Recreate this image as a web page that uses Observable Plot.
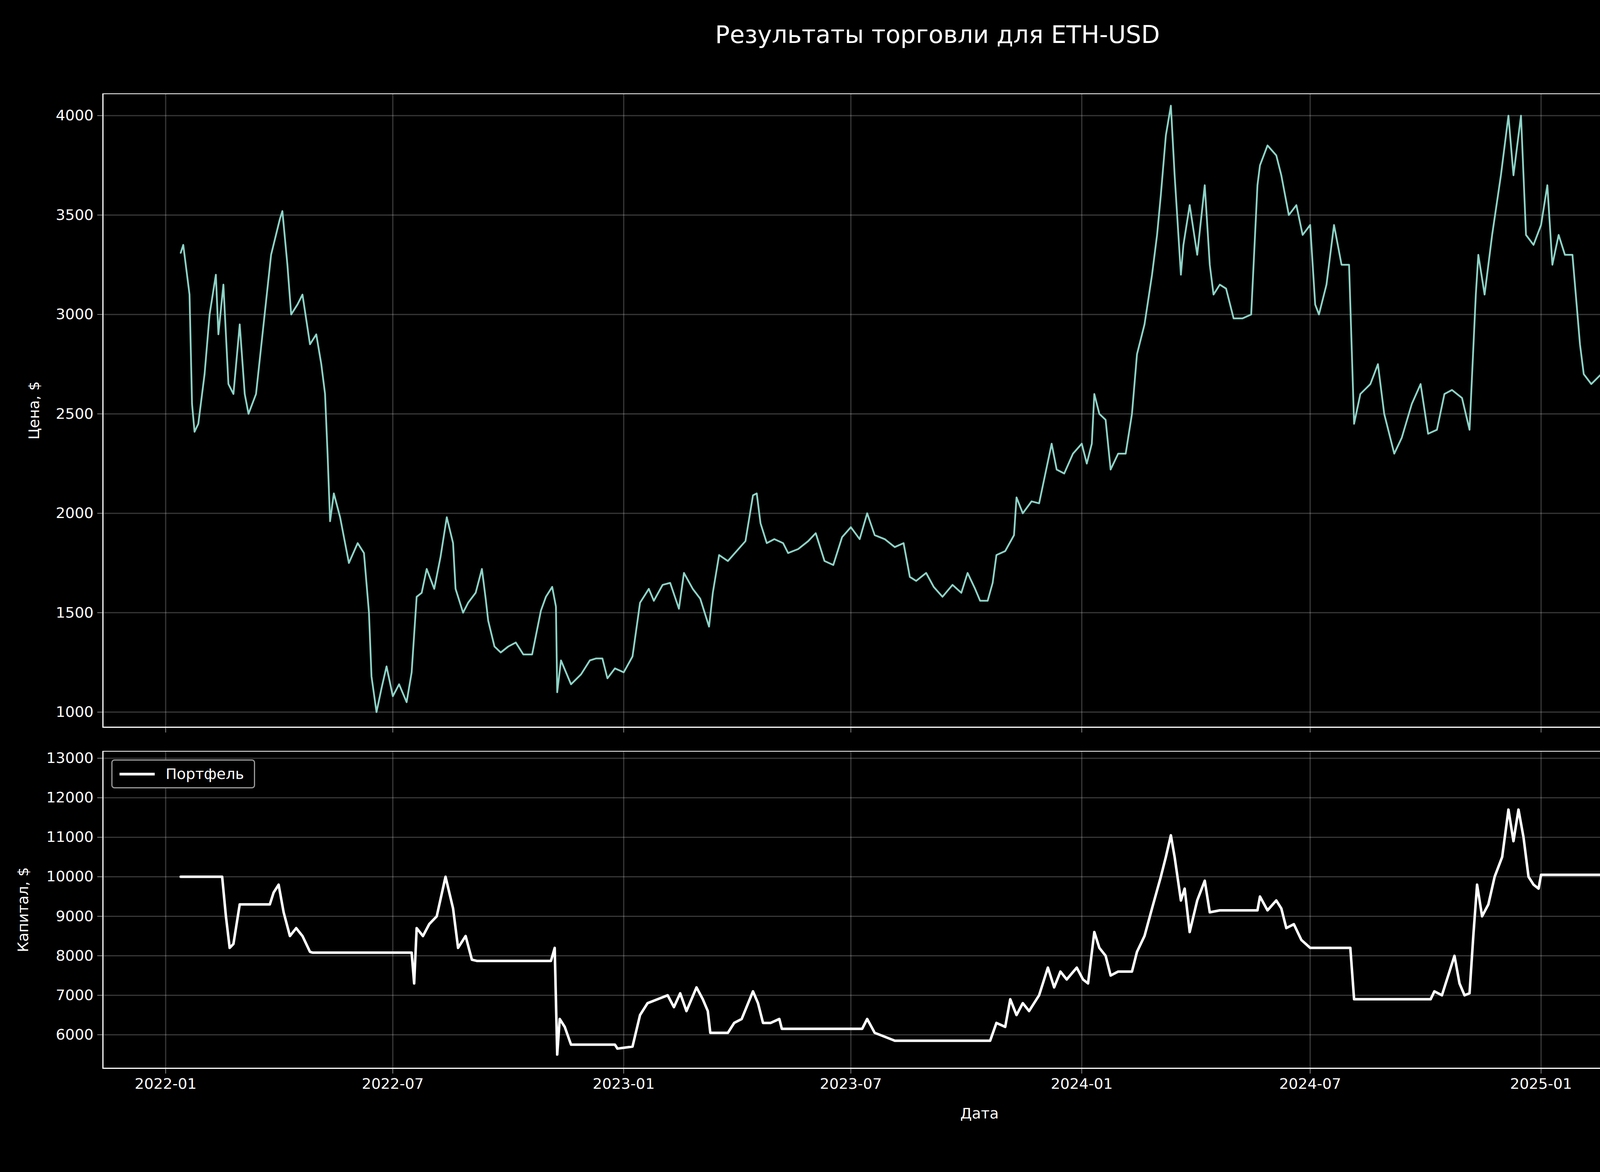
<!DOCTYPE html>
<html>
<head>
<meta charset="utf-8">
<script src="https://cdn.jsdelivr.net/npm/d3@7"></script>
<script src="https://cdn.jsdelivr.net/npm/@observablehq/plot@0.6"></script>
<style>
  html, body { margin: 0; background: #000; overflow: hidden; }
  #wrap { position: relative; width: 4800px; height: 3000px; background: #000; font-family: "DejaVu Sans", sans-serif; color: #fff; overflow: hidden; }
  #title { position: absolute; top: 52px; left: 0; width: 4800px; text-align: center; font-size: 62px; }
  .panel { position: absolute; left: 0; }
  .legend { position: absolute; border: 3px solid #999; border-radius: 8px; background: #000; font-size: 38px; display: flex; align-items: center; padding: 0 18px; box-sizing: border-box; }
  .legend span.sw { display: inline-block; width: 90px; margin-right: 28px; }
</style>
</head>
<body>
<div id="wrap">
  <div id="title">Результаты торговли для ETH-USD</div>
  <div id="topPanel" class="panel" style="top:239px"></div>
  <div id="bottomPanel" class="panel" style="top:1922px"></div>
  <div class="legend" style="left:4273px;top:260px;width:460px;height:74px"><span class="sw" style="border-top:5px solid #8dd3c7"></span>Цена ETH-USD</div>
  <div class="legend" style="left:285px;top:1944px;width:368px;height:74px"><span class="sw" style="border-top:7px solid #fff"></span>Портфель</div>
</div>
<script>
// ETH-USD close price
const priceSeries = [
  ["2022-01-13",3310],["2022-01-15",3350],["2022-01-20",3100],["2022-01-22",2550],["2022-01-24",2410],["2022-01-27",2450],
  ["2022-02-01",2700],["2022-02-05",3000],["2022-02-10",3200],["2022-02-12",2900],["2022-02-16",3150],["2022-02-20",2650],
  ["2022-02-24",2600],["2022-03-01",2950],["2022-03-05",2600],["2022-03-08",2500],["2022-03-14",2600],["2022-03-20",2950],
  ["2022-03-26",3300],["2022-04-02",3480],["2022-04-04",3520],["2022-04-08",3250],["2022-04-11",3000],["2022-04-16",3050],
  ["2022-04-20",3100],["2022-04-26",2850],["2022-05-01",2900],["2022-05-05",2750],["2022-05-08",2600],["2022-05-10",2300],
  ["2022-05-12",1960],["2022-05-15",2100],["2022-05-20",1980],["2022-05-27",1750],["2022-06-03",1850],["2022-06-08",1800],
  ["2022-06-12",1500],["2022-06-14",1180],["2022-06-18",1000],["2022-06-22",1120],["2022-06-26",1230],["2022-07-01",1080],
  ["2022-07-06",1140],["2022-07-12",1050],["2022-07-16",1200],["2022-07-20",1580],["2022-07-24",1600],["2022-07-28",1720],
  ["2022-08-03",1620],["2022-08-08",1780],["2022-08-13",1980],["2022-08-18",1850],["2022-08-20",1620],["2022-08-26",1500],
  ["2022-08-30",1550],["2022-09-05",1600],["2022-09-10",1720],["2022-09-13",1570],["2022-09-15",1460],["2022-09-20",1330],
  ["2022-09-25",1300],["2022-10-01",1330],["2022-10-07",1350],["2022-10-13",1290],["2022-10-20",1290],["2022-10-27",1510],
  ["2022-10-31",1580],["2022-11-05",1630],["2022-11-08",1530],["2022-11-09",1100],["2022-11-12",1260],["2022-11-20",1140],
  ["2022-11-28",1190],["2022-12-05",1260],["2022-12-10",1270],["2022-12-15",1270],["2022-12-19",1170],["2022-12-25",1220],
  ["2023-01-01",1200],["2023-01-08",1280],["2023-01-14",1550],["2023-01-21",1620],["2023-01-25",1560],["2023-02-01",1640],
  ["2023-02-07",1650],["2023-02-14",1520],["2023-02-18",1700],["2023-02-25",1620],["2023-03-03",1570],["2023-03-10",1430],
  ["2023-03-13",1600],["2023-03-18",1790],["2023-03-25",1760],["2023-04-01",1810],["2023-04-08",1860],["2023-04-14",2090],
  ["2023-04-17",2100],["2023-04-20",1950],["2023-04-25",1850],["2023-05-01",1870],["2023-05-08",1850],["2023-05-12",1800],
  ["2023-05-20",1820],["2023-05-28",1860],["2023-06-03",1900],["2023-06-10",1760],["2023-06-17",1740],["2023-06-24",1880],
  ["2023-07-01",1930],["2023-07-08",1870],["2023-07-14",2000],["2023-07-20",1890],["2023-07-28",1870],["2023-08-05",1830],
  ["2023-08-12",1850],["2023-08-17",1680],["2023-08-22",1660],["2023-08-30",1700],["2023-09-05",1630],["2023-09-12",1580],
  ["2023-09-20",1640],["2023-09-27",1600],["2023-10-02",1700],["2023-10-08",1620],["2023-10-12",1560],["2023-10-18",1560],
  ["2023-10-22",1650],["2023-10-25",1790],["2023-11-01",1810],["2023-11-08",1890],["2023-11-10",2080],["2023-11-15",2000],
  ["2023-11-22",2060],["2023-11-28",2050],["2023-12-03",2200],["2023-12-08",2350],["2023-12-12",2220],["2023-12-18",2200],
  ["2023-12-25",2300],["2024-01-01",2350],["2024-01-05",2250],["2024-01-09",2350],["2024-01-11",2600],["2024-01-15",2500],
  ["2024-01-20",2470],["2024-01-24",2220],["2024-01-30",2300],["2024-02-05",2300],["2024-02-10",2500],["2024-02-14",2800],
  ["2024-02-20",2950],["2024-02-26",3200],["2024-03-01",3400],["2024-03-04",3600],["2024-03-08",3900],["2024-03-12",4050],
  ["2024-03-15",3700],["2024-03-20",3200],["2024-03-22",3350],["2024-03-27",3550],["2024-04-02",3300],["2024-04-08",3650],
  ["2024-04-12",3250],["2024-04-15",3100],["2024-04-20",3150],["2024-04-25",3130],["2024-05-01",2980],["2024-05-08",2980],
  ["2024-05-15",3000],["2024-05-20",3650],["2024-05-22",3750],["2024-05-28",3850],["2024-06-04",3800],["2024-06-08",3700],
  ["2024-06-14",3500],["2024-06-20",3550],["2024-06-25",3400],["2024-07-01",3450],["2024-07-05",3050],["2024-07-08",3000],
  ["2024-07-14",3150],["2024-07-20",3450],["2024-07-26",3250],["2024-08-01",3250],["2024-08-05",2450],["2024-08-10",2600],
  ["2024-08-18",2650],["2024-08-24",2750],["2024-08-29",2500],["2024-09-06",2300],["2024-09-12",2380],["2024-09-20",2550],
  ["2024-09-27",2650],["2024-10-03",2400],["2024-10-10",2420],["2024-10-16",2600],["2024-10-22",2620],["2024-10-30",2580],
  ["2024-11-05",2420],["2024-11-10",3100],["2024-11-12",3300],["2024-11-17",3100],["2024-11-23",3400],["2024-11-30",3700],
  ["2024-12-06",4000],["2024-12-10",3700],["2024-12-16",4000],["2024-12-20",3400],["2024-12-26",3350],["2025-01-01",3450],
  ["2025-01-06",3650],["2025-01-10",3250],["2025-01-15",3400],["2025-01-20",3300],["2025-01-26",3300],["2025-02-01",2850],
  ["2025-02-04",2700],["2025-02-10",2650],["2025-02-18",2700],["2025-02-25",2400],["2025-03-03",2200],["2025-03-06",2150],
  ["2025-03-10",1880],["2025-03-15",1920],["2025-03-22",2000],["2025-03-26",2050],["2025-03-30",1820],["2025-04-06",1800],
  ["2025-04-09",1470],["2025-04-12",1580],["2025-04-18",1580],["2025-04-22",1600],["2025-04-24",1780],["2025-04-30",1810],
  ["2025-05-07",1820],["2025-05-09",2300],["2025-05-11",2550],["2025-05-15",2600],["2025-05-20",2520],["2025-05-27",2650],
  ["2025-06-02",2600],["2025-06-06",2500],["2025-06-10",2800],["2025-06-14",2550],["2025-06-20",2450],["2025-06-22",2230],
  ["2025-06-25",2450],["2025-07-01",2450],["2025-07-05",2550],["2025-07-09",2770]
];

// portfolio equity
const portfolioSeries = [
  ["2022-01-13",10000],["2022-02-15",10000],["2022-02-18",9000],["2022-02-21",8200],["2022-02-24",8300],["2022-03-01",9300],
  ["2022-03-25",9300],["2022-03-28",9600],["2022-04-01",9800],["2022-04-05",9100],["2022-04-10",8500],["2022-04-15",8700],
  ["2022-04-20",8500],["2022-04-26",8100],["2022-04-28",8080],["2022-07-16",8080],["2022-07-18",7300],["2022-07-20",8700],
  ["2022-07-25",8500],["2022-07-30",8800],["2022-08-05",9000],["2022-08-12",10000],["2022-08-18",9200],["2022-08-22",8200],
  ["2022-08-28",8500],["2022-09-02",7900],["2022-09-06",7870],["2022-11-04",7870],["2022-11-07",8200],["2022-11-09",5500],
  ["2022-11-11",6400],["2022-11-15",6200],["2022-11-20",5750],["2022-12-25",5750],["2022-12-27",5650],["2023-01-08",5700],
  ["2023-01-14",6500],["2023-01-20",6800],["2023-01-28",6900],["2023-02-05",7000],["2023-02-10",6700],["2023-02-15",7050],
  ["2023-02-20",6600],["2023-02-28",7200],["2023-03-05",6900],["2023-03-09",6600],["2023-03-11",6050],["2023-03-25",6050],
  ["2023-03-30",6300],["2023-04-05",6400],["2023-04-14",7100],["2023-04-18",6800],["2023-04-22",6300],["2023-04-28",6300],
  ["2023-05-05",6400],["2023-05-07",6150],["2023-07-10",6150],["2023-07-14",6400],["2023-07-20",6050],["2023-07-28",5950],
  ["2023-08-05",5850],["2023-10-20",5850],["2023-10-25",6300],["2023-11-01",6200],["2023-11-05",6900],["2023-11-10",6500],
  ["2023-11-15",6800],["2023-11-20",6600],["2023-11-28",7000],["2023-12-05",7700],["2023-12-10",7200],["2023-12-15",7600],
  ["2023-12-20",7400],["2023-12-28",7700],["2024-01-02",7400],["2024-01-06",7300],["2024-01-11",8600],["2024-01-15",8200],
  ["2024-01-20",8000],["2024-01-24",7500],["2024-01-30",7600],["2024-02-10",7600],["2024-02-14",8100],["2024-02-20",8500],
  ["2024-02-26",9200],["2024-03-04",10000],["2024-03-08",10500],["2024-03-12",11050],["2024-03-15",10500],["2024-03-20",9400],
  ["2024-03-23",9700],["2024-03-27",8600],["2024-04-02",9400],["2024-04-08",9900],["2024-04-12",9100],["2024-04-20",9150],
  ["2024-05-20",9150],["2024-05-22",9500],["2024-05-28",9150],["2024-06-04",9400],["2024-06-08",9200],["2024-06-12",8700],
  ["2024-06-18",8800],["2024-06-24",8400],["2024-07-01",8200],["2024-08-02",8200],["2024-08-05",6900],["2024-10-05",6900],
  ["2024-10-08",7100],["2024-10-14",7000],["2024-10-20",7600],["2024-10-24",8000],["2024-10-28",7300],["2024-11-01",7000],
  ["2024-11-05",7050],["2024-11-08",8500],["2024-11-11",9800],["2024-11-15",9000],["2024-11-20",9300],["2024-11-25",10000],
  ["2024-12-01",10500],["2024-12-06",11700],["2024-12-10",10900],["2024-12-14",11700],["2024-12-18",11000],["2024-12-22",10000],
  ["2024-12-26",9800],["2024-12-30",9700],["2025-01-01",10050],["2025-05-08",10050],["2025-05-10",11800],["2025-05-13",11500],
  ["2025-05-15",12200],["2025-05-20",11500],["2025-05-27",12200],["2025-06-02",11500],["2025-06-06",11800],["2025-06-08",11000],
  ["2025-06-10",11700],["2025-06-12",12800],["2025-06-16",11600],["2025-06-20",11400],["2025-06-24",10150],["2025-06-26",11100],
  ["2025-07-01",11000],["2025-07-09",11000]
];

const priceTicks = [1000, 1500, 2000, 2500, 3000, 3500, 4000];
const capitalTicks = [6000, 7000, 8000, 9000, 10000, 11000, 12000, 13000];
const dateTicks = ["2022-01-01","2022-07-01","2023-01-01","2023-07-01","2024-01-01","2024-07-01","2025-01-01","2025-07-01"].map(d => new Date(d));

const toRows = s => s.map(([d, v]) => ({date: new Date(d), value: v}));
const price = toRows(priceSeries);
const capital = toRows(portfolioSeries);

const xDomain = [new Date("2021-11-12"), new Date("2025-09-09")];
const style = {background: "#000", color: "#fff", fontFamily: "DejaVu Sans, sans-serif", fontSize: "38px"};
const grid = {stroke: "#fff", strokeOpacity: 0.22, strokeWidth: 3};

const priceChart = Plot.plot({
  width: 4800, height: 1652,
  marginLeft: 263, marginRight: 49, marginTop: 0, marginBottom: 30,
  style,
  x: {domain: xDomain, ticks: dateTicks, tickFormat: () => "", tickSize: 14, label: null},
  y: {domain: [924, 4111], ticks: priceTicks, tickFormat: d3.format("d"), tickSize: 14, tickPadding: 10,
      label: "Цена, $", labelAnchor: "center", labelArrow: "none", labelOffset: 190},
  marks: [
    Plot.gridX(dateTicks, grid),
    Plot.gridY(priceTicks, grid),
    Plot.line(price, {x: "date", y: "value", stroke: "#8dd3c7", strokeWidth: 4.5}),
    Plot.frame({stroke: "#fff", strokeWidth: 3})
  ]
});

const capitalChart = Plot.plot({
  width: 4800, height: 1012,
  marginLeft: 263, marginRight: 49, marginTop: 0, marginBottom: 200,
  style,
  x: {domain: xDomain, ticks: dateTicks, tickFormat: d3.utcFormat("%Y-%m"), tickSize: 14, tickPadding: 12,
      label: "Дата", labelAnchor: "center", labelArrow: "none", labelOffset: 128},
  y: {domain: [5152, 13182], ticks: capitalTicks, tickFormat: d3.format("d"), tickSize: 14, tickPadding: 10,
      label: "Капитал, $", labelAnchor: "center", labelArrow: "none", labelOffset: 218},
  marks: [
    Plot.gridX(dateTicks, grid),
    Plot.gridY(capitalTicks, grid),
    Plot.line(capital, {x: "date", y: "value", stroke: "#fff", strokeWidth: 6.5}),
    Plot.frame({stroke: "#fff", strokeWidth: 3})
  ]
});

d3.select('#topPanel').append(() => priceChart);
d3.select('#bottomPanel').append(() => capitalChart);
</script>
</body>
</html>
